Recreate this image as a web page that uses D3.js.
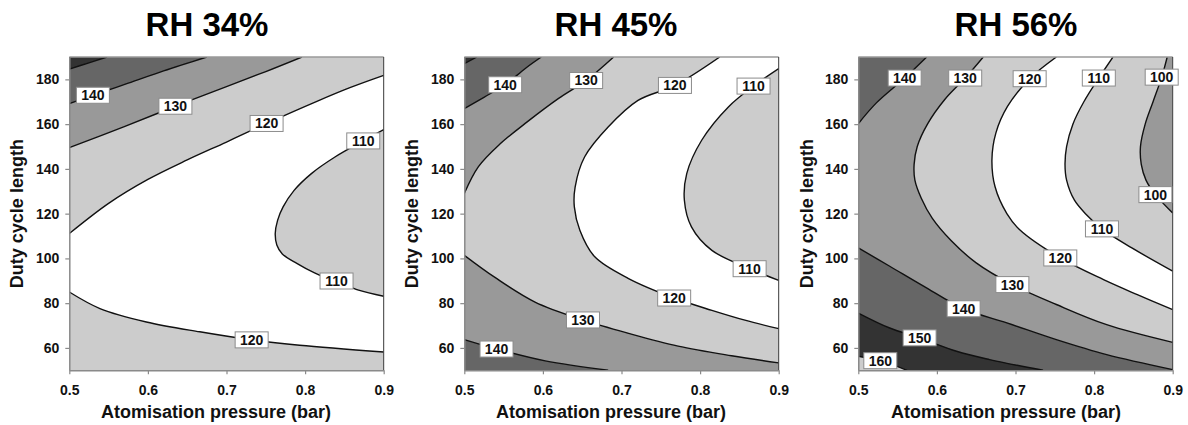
<!DOCTYPE html>
<html>
<head>
<meta charset="utf-8">
<script src="https://cdn.jsdelivr.net/npm/d3@7/dist/d3.min.js"></script>
<style>
  html, body { margin: 0; padding: 0; background: #ffffff; }
  svg { display: block; font-family: "Liberation Sans", Arial, sans-serif; }
</style>
</head>
<body>
<svg id="chart" width="1188" height="425"></svg>
<script>
// Outlet temperature response surface, contour lines per relative humidity.
// Each contour: level value and its points [pressure (bar), duty cycle length],
// listed so that higher values lie on the right-hand side of the line.
const panelTitles = ["RH 34%", "RH 45%", "RH 56%"];
const xTicks = [0.5, 0.6, 0.7, 0.8, 0.9];
const yTicks = [60, 80, 100, 120, 140, 160, 180];
const pressureRange = [0.5, 0.9];
const dutyRange = [50, 190];

const rh34Contours = [
  { level: 110, labels: [1, 13], pts: [[0.9, 157.5], [0.874, 152.5], [0.838, 145.3], [0.808, 137.9], [0.786, 130.4], [0.772, 123], [0.765, 117], [0.762, 111.1], [0.764, 106], [0.771, 102], [0.790, 97.7], [0.812, 93.5], [0.826, 91.4], [0.840, 89.9], [0.868, 85.8], [0.9, 83.1]] },
  { level: 120, labels: [3], pts: [[0.9, 181.8], [0.857, 176.3], [0.815, 170.2], [0.751, 160.3], [0.70, 152], [0.65, 144], [0.60, 135.3], [0.55, 124.6], [0.5, 111.1]] },
  { level: 120, labels: [4], pts: [[0.5, 85], [0.539, 77.6], [0.598, 71.6], [0.666, 67.2], [0.732, 63.6], [0.793, 61.2], [0.9, 58.2]] },
  { level: 130, labels: [3], pts: [[0.796, 190], [0.75, 183.5], [0.70, 176.8], [0.635, 168], [0.57, 158.9], [0.5, 149.5]] },
  { level: 140, labels: [3], pts: [[0.675, 190], [0.62, 183.8], [0.575, 178.3], [0.53, 172.9], [0.5, 169.2]] },
  { level: 150, labels: [], pts: [[0.548, 190], [0.524, 187.3], [0.5, 184.6]] }
];

const rh45Contours = [
  { level: 110, labels: [1, 8], pts: [[0.9, 184.8], [0.868, 177], [0.836, 167.7], [0.802, 152.8], [0.783, 137.9], [0.780, 126], [0.789, 114.1], [0.815, 103.6], [0.863, 95.4], [0.9, 90.2]] },
  { level: 120, labels: [1, 10], pts: [[0.825, 190], [0.768, 177.3], [0.721, 170.6], [0.683, 158.7], [0.653, 145.3], [0.641, 131.9], [0.640, 123], [0.647, 112.6], [0.666, 100.7], [0.709, 91], [0.767, 82.3], [0.815, 76.8], [0.857, 72.4], [0.9, 68.6]] },
  { level: 130, labels: [1], pts: [[0.69, 190], [0.655, 179.5], [0.62, 171.5], [0.58, 161], [0.545, 151], [0.518, 141], [0.5, 129]] },
  { level: 130, labels: [3], pts: [[0.5, 101.4], [0.539, 91.5], [0.59, 80.5], [0.651, 72.5], [0.709, 66.5], [0.772, 60.8], [0.84, 56.5], [0.9, 53.3]] },
  { level: 140, labels: [2], pts: [[0.598, 190], [0.578, 185], [0.552, 177.6], [0.525, 172], [0.5, 166.9]] },
  { level: 140, labels: [1], pts: [[0.5, 63.7], [0.541, 59.5], [0.603, 54.2], [0.683, 50]] },
  { level: 150, labels: [], pts: [[0.516, 190], [0.5, 187]] }
];

const rh56Contours = [
  { level: 100, labels: [1, 7], pts: [[0.893, 190], [0.886, 181], [0.875, 170], [0.865, 160], [0.859, 150], [0.860, 142], [0.866, 135], [0.878, 128.5], [0.9, 120.3]] },
  { level: 110, labels: [1, 9], pts: [[0.824, 190], [0.806, 180.6], [0.787, 170], [0.773, 160], [0.765, 150], [0.763, 142], [0.765, 135], [0.775, 126], [0.789, 120], [0.810, 113.2], [0.848, 104.7], [0.9, 94.3]] },
  { level: 120, labels: [1, 8], pts: [[0.752, 190], [0.718, 180.3], [0.690, 168], [0.675, 156], [0.670, 144], [0.674, 132], [0.689, 120], [0.705, 112.9], [0.757, 100.2], [0.812, 90.5], [0.855, 83.8], [0.9, 77.1]] },
  { level: 130, labels: [1, 11], pts: [[0.659, 190], [0.636, 180.6], [0.610, 171], [0.588, 160], [0.575, 150], [0.571, 142], [0.572, 135], [0.580, 127], [0.594, 118], [0.618, 108], [0.650, 98], [0.696, 88.3], [0.752, 79.4], [0.816, 70.4], [0.9, 62.5]] },
  { level: 140, labels: [1], pts: [[0.587, 190], [0.559, 180.6], [0.523, 169.5], [0.5, 160.2]] },
  { level: 140, labels: [3], pts: [[0.5, 104.7], [0.540, 96.5], [0.583, 87.6], [0.634, 77.5], [0.689, 71.2], [0.752, 63.7], [0.816, 57], [0.9, 50.3]] },
  { level: 150, labels: [2], pts: [[0.5, 75.6], [0.540, 68.9], [0.578, 64.5], [0.625, 58.5], [0.667, 54.8], [0.735, 50]] },
  { level: 160, labels: [1], pts: [[0.5, 56.3], [0.528, 54.3], [0.562, 50]] }
];

const panelContours = [rh34Contours, rh45Contours, rh56Contours];

// ---- layout ----
const plotLefts = [69.3, 464.3, 858.3];
const plotWidth = 314.4;
const plotTop = 57, plotBottom = 370.3;
const titleCentres = [207, 616, 1016];
const xTitleCentres = [216, 611, 1006];
const yTitleX = [23, 418, 813];

// shade of the band lying above a contour level
function bandFill(level) {
  const shades = { 90: "#999999", 100: "#cccccc", 110: "#ffffff", 120: "#cccccc",
                   130: "#999999", 140: "#666666", 150: "#333333", 160: "#cccccc" };
  return shades[level] || "#cccccc";
}

const svg = d3.select("#chart");
svg.append("rect").attr("width", 1188).attr("height", 425).attr("fill", "#ffffff");
const defs = svg.append("defs");

// position of a boundary point along the plot frame, clockwise from top-left
function perimeter(p) {
  const [px, py] = p;
  const [x0, x1] = pressureRange, [y0, y1] = dutyRange;
  const d = [Math.abs(py - y1) / (y1 - y0), Math.abs(px - x1) / (x1 - x0),
             Math.abs(py - y0) / (y1 - y0), Math.abs(px - x0) / (x1 - x0)];
  const edge = d.indexOf(Math.min(...d));
  if (edge === 0) return (px - x0) / (x1 - x0);
  if (edge === 1) return 1 + (y1 - py) / (y1 - y0);
  if (edge === 2) return 2 + (x1 - px) / (x1 - x0);
  return 3 + (py - y0) / (y1 - y0);
}
const frameCorners = [[pressureRange[0], dutyRange[1]], [pressureRange[1], dutyRange[1]],
                      [pressureRange[1], dutyRange[0]], [pressureRange[0], dutyRange[0]]];

panelTitles.forEach((title, i) => {
  const left = plotLefts[i];
  const x = d3.scaleLinear().domain(pressureRange).range([left, left + plotWidth]);
  const y = d3.scaleLinear().domain(dutyRange).range([plotBottom, plotTop]);
  const contours = panelContours[i];

  const clipId = "plot-clip-" + i;
  defs.append("clipPath").attr("id", clipId).append("rect")
    .attr("x", left).attr("y", plotTop).attr("width", plotWidth).attr("height", plotBottom - plotTop);

  const g = svg.append("g");
  const area = g.append("g").attr("clip-path", `url(#${clipId})`);

  const line = d3.line().x(d => x(d[0])).y(d => y(d[1])).curve(d3.curveCatmullRom.alpha(0.5));

  // background: band just below the lowest contour
  const minLevel = d3.min(contours, c => c.level);
  area.append("rect").attr("x", left).attr("y", plotTop)
    .attr("width", plotWidth).attr("height", plotBottom - plotTop)
    .attr("fill", bandFill(minLevel - 10));

  // filled regions above each level, painted from low to high
  const sorted = contours.slice().sort((a, b) => a.level - b.level);
  sorted.forEach(c => {
    const first = c.pts[0], last = c.pts[c.pts.length - 1];
    const tB = perimeter(last);
    let tA = perimeter(first);
    if (tA <= tB) tA += 4;
    let closing = "";
    for (let k = Math.ceil(tB + 1e-9); k < tA; k++) {
      const corner = frameCorners[k % 4];
      closing += "L" + x(corner[0]) + "," + y(corner[1]);
    }
    area.append("path").attr("d", line(c.pts) + closing + "Z")
      .attr("fill", bandFill(c.level)).attr("stroke", "none");
  });

  // contour lines
  contours.forEach(c => {
    area.append("path").attr("d", line(c.pts))
      .attr("fill", "none").attr("stroke", "#111111").attr("stroke-width", 1.4);
  });

  // frame
  g.append("line").attr("x1", left).attr("x2", left + plotWidth)
    .attr("y1", plotTop).attr("y2", plotTop).attr("stroke", "#9a9a9a").attr("stroke-width", 1.5);
  g.append("line").attr("x1", left + plotWidth).attr("x2", left + plotWidth)
    .attr("y1", plotTop).attr("y2", plotBottom).attr("stroke", "#3a3a3a").attr("stroke-width", 1);

  // axes
  const xAxis = d3.axisBottom(x).tickValues(xTicks).tickFormat(d3.format(".1f"))
    .tickSize(4).tickSizeOuter(0).tickPadding(11);
  const yAxis = d3.axisLeft(y).tickValues(yTicks).tickFormat(d3.format("d"))
    .tickSize(4).tickSizeOuter(0).tickPadding(6);

  const gx = g.append("g").attr("transform", `translate(0,${plotBottom})`).call(xAxis);
  const gy = g.append("g").attr("transform", `translate(${left},0)`).call(yAxis);
  [gx, gy].forEach(ax => {
    ax.select(".domain").attr("stroke", "#8a8a8a").attr("stroke-width", 1.5);
    ax.selectAll(".tick line").attr("stroke", "#8a8a8a").attr("stroke-width", 1.2);
    ax.selectAll(".tick text").attr("fill", "#111111")
      .attr("font-size", 14).attr("font-weight", "bold")
      .attr("font-family", "'Liberation Sans', Arial, sans-serif");
  });

  // contour value labels
  contours.forEach(c => {
    c.labels.forEach(idx => {
      const p = c.pts[idx];
      const cx = x(p[0]), cy = y(p[1]);
      const lg = g.append("g");
      lg.append("rect").attr("x", cx - 16.5).attr("y", cy - 8).attr("width", 33).attr("height", 16)
        .attr("fill", "#ffffff").attr("stroke", "#8c8c8c").attr("stroke-width", 1);
      lg.append("text").attr("x", cx).attr("y", cy + 5)
        .attr("text-anchor", "middle").attr("font-size", 14).attr("font-weight", "bold")
        .attr("fill", "#111111").text(c.level);
    });
  });

  // titles
  svg.append("text").attr("x", titleCentres[i]).attr("y", 36)
    .attr("text-anchor", "middle").attr("font-size", 33).attr("font-weight", "bold")
    .attr("fill", "#000000").text(title);
  svg.append("text").attr("x", xTitleCentres[i]).attr("y", 418)
    .attr("text-anchor", "middle").attr("font-size", 18).attr("font-weight", "bold")
    .attr("fill", "#111111").text("Atomisation pressure (bar)");
  svg.append("text").attr("transform", `translate(${yTitleX[i]},${(plotTop + plotBottom) / 2}) rotate(-90)`)
    .attr("text-anchor", "middle").attr("font-size", 18).attr("font-weight", "bold")
    .attr("fill", "#111111").text("Duty cycle length");
});
</script>
</body>
</html>
